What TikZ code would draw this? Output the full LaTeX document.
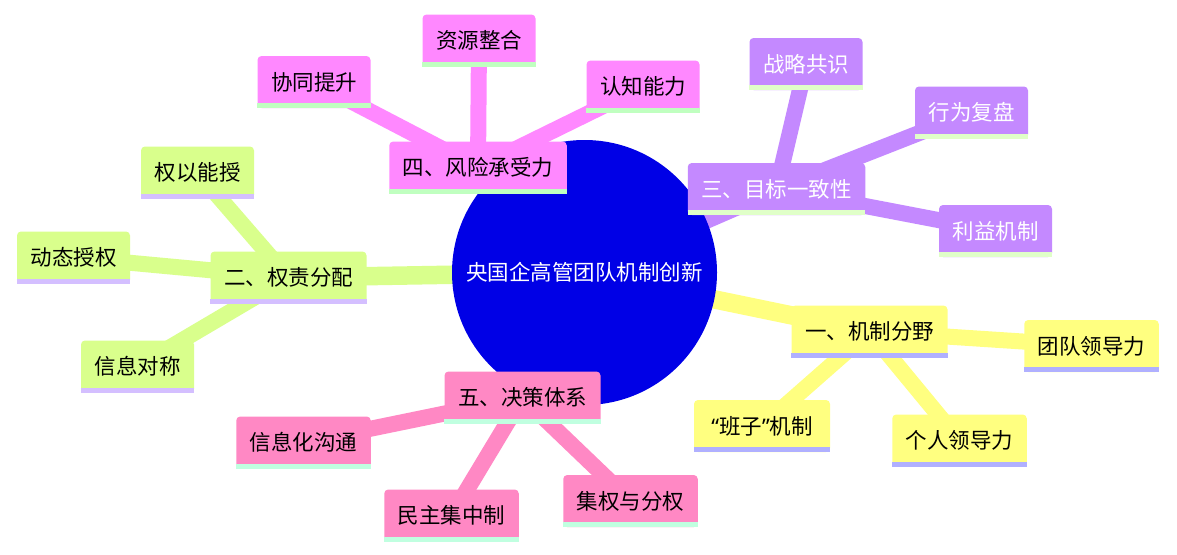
\documentclass[tikz,border=0pt]{standalone}
\usepackage{fontspec}
\setmainfont{Noto Sans CJK SC}
\newfontfamily\qf{Noto Sans}
\definecolor{cblue}{HTML}{0000E6}
\definecolor{ybox}{HTML}{FFFF80}
\definecolor{ystrip}{HTML}{B0B0FF}
\definecolor{gbox}{HTML}{D9FF8C}
\definecolor{gstrip}{HTML}{D4BFFF}
\definecolor{pbox}{HTML}{C489FF}
\definecolor{pstrip}{HTML}{E0FFC8}
\definecolor{kbox}{HTML}{FF88FF}
\definecolor{kstrip}{HTML}{C0FFC0}
\definecolor{rbox}{HTML}{FF88C4}
\definecolor{rstrip}{HTML}{C0FFE0}
\pgfdeclarelayer{background}
\pgfsetlayers{background,main}
\begin{document}
\begin{tikzpicture}[x=1pt,y=-1pt,
  txt/.style={font=\fontsize{21.5}{26}\selectfont},
  box/.style={txt, fill=#1, rounded corners=4pt, minimum height=52pt,
    inner xsep=13.5pt, inner ysep=0pt, text=black},
  wbox/.style={box=#1, text=white},
  mainline/.style={draw=#1, line width=18.5pt},
  subline/.style={draw=#1, line width=16pt},
  hub/.style={txt, circle, fill=cblue, text=white, minimum size=265pt, inner sep=0pt}]
\useasboundingbox (0,0) rectangle (1177,554);

\node[hub] (C) at (584.5,272.5) {央国企高管团队机制创新};

% yellow
\node[box=ybox] (Y0) at (869.5,331.5) {一、机制分野};
\node[box=ybox] (Y1) at (1091.5,346) {团队领导力};
\node[box=ybox, minimum width=136pt] (Y2) at (762,426) {{\qf “}班子{\qf ”}机制};
\node[box=ybox] (Y3) at (959.5,440.5) {个人领导力};
% green
\node[box=gbox] (G0) at (288.5,277.5) {二、权责分配};
\node[box=gbox] (G1) at (197.5,172.5) {权以能授};
\node[box=gbox] (G2) at (73.5,257.5) {动态授权};
\node[box=gbox] (G3) at (137.5,366.5) {信息对称};
% purple
\node[wbox=pbox] (P0) at (776.5,189) {三、目标一致性};
\node[wbox=pbox] (P1) at (806,64) {战略共识};
\node[wbox=pbox] (P2) at (971.5,112.5) {行为复盘};
\node[wbox=pbox] (P3) at (995.5,231) {利益机制};
% pink
\node[box=kbox] (K0) at (478,167.5) {四、风险承受力};
\node[box=kbox] (K1) at (479,40.5) {资源整合};
\node[box=kbox] (K2) at (643,86.5) {认知能力};
\node[box=kbox] (K3) at (314,82) {协同提升};
% red-pink
\node[box=rbox] (R0) at (522.5,397.5) {五、决策体系};
\node[box=rbox] (R1) at (303.5,442.5) {信息化沟通};
\node[box=rbox] (R2) at (451.5,515.5) {民主集中制};
\node[box=rbox] (R3) at (630.5,501) {集权与分权};

\foreach \n/\c in {Y0/ystrip,Y1/ystrip,Y2/ystrip,Y3/ystrip,
  G0/gstrip,G1/gstrip,G2/gstrip,G3/gstrip,
  P0/pstrip,P1/pstrip,P2/pstrip,P3/pstrip,
  K0/kstrip,K1/kstrip,K2/kstrip,K3/kstrip,
  R0/rstrip,R1/rstrip,R2/rstrip,R3/rstrip}
  \fill[\c] ([yshift=5pt]\n.south west) rectangle (\n.south east);

\begin{pgfonlayer}{background}
\fill[white] (0,0) rectangle (1177,554);
\draw[mainline=ybox] (C.center) -- (Y0.center);
\draw[mainline=gbox] (C.center) -- (G0.center);
\draw[mainline=pbox] (C.center) -- (P0.center);
\draw[mainline=kbox] (C.center) -- (K0.center);
\draw[mainline=rbox] (C.center) -- (R0.center);
\foreach \s in {1,2,3} {
  \draw[subline=ybox] (Y0.center) -- (Y\s.center);
  \draw[subline=gbox] (G0.center) -- (G\s.center);
  \draw[subline=pbox] (P0.center) -- (P\s.center);
  \draw[subline=kbox] (K0.center) -- (K\s.center);
  \draw[subline=rbox] (R0.center) -- (R\s.center);
}
\end{pgfonlayer}
\end{tikzpicture}
\end{document}
